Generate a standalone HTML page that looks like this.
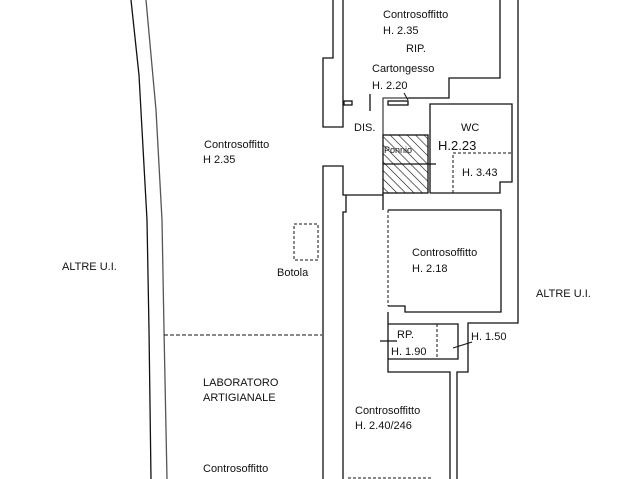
<!DOCTYPE html>
<html><head><meta charset="utf-8"><style>
html,body{margin:0;padding:0;background:#fff;}
svg{display:block}
text{font-family:"Liberation Sans",sans-serif;font-size:11px;fill:#111;}
</style></head><body>
<svg width="640" height="479" viewBox="0 0 640 479" xmlns="http://www.w3.org/2000/svg">
<defs>
<pattern id="h" width="6" height="6" patternUnits="userSpaceOnUse" patternTransform="rotate(-45)">
<line x1="0" y1="0" x2="0" y2="6" stroke="#111" stroke-width="1.2"/>
</pattern>
</defs>
<g fill="none" stroke="#111" stroke-width="1.3">
<path d="M131,0 L139,75 L147,220 L149,330 L151,479"/>
<path d="M146,0 L156,110 L162,220 L164,330 L167,479" stroke="#555"/>
<path d="M333,0 L333,58 L323,58 L323,127 L343,127 L343,0"/>
<path d="M323,479 L323,166 L343,166 L343,195 L383,195"/>
<path d="M343,479 L343,212 L346,212 L346,195"/>
<path d="M500,0 L500,78 L449,78 L449,98 L408,98"/>
<path d="M408,98 L383,98 L383,210" stroke-width="1"/>
<rect x="344" y="101" width="8" height="4"/>
<line x1="370" y1="94" x2="370" y2="111"/>
<rect x="388" y="101" width="20" height="4"/>
<line x1="404" y1="93" x2="408" y2="100" stroke-width="1"/>
<path d="M518,0 L518,323 L468,323 L468,372 L457,372 L457,479"/>
<path d="M450,479 L450,372 L388,372 L388,312"/>
<path d="M430,193 L430,104 L512,104 L512,182 L500,182 L500,193 L430,193"/>
<path d="M453,193 L453,153 L512,153" stroke-dasharray="3,2" stroke-width="1"/>
<rect x="383" y="135" width="45" height="58" fill="url(#h)"/>
<line x1="383" y1="164" x2="436" y2="164"/>
<line x1="383" y1="193" x2="383" y2="210"/>
<path d="M388,210 L501,210 L501,312 L405,312 L405,306 L388,306"/>
<line x1="388" y1="210" x2="388" y2="306" stroke-dasharray="3,2" stroke-width="1"/>
<path d="M388,324 L458,324 L458,359 L388,359"/>
<line x1="437" y1="324" x2="437" y2="359" stroke-dasharray="3,2" stroke-width="1"/>
<line x1="380" y1="341" x2="397" y2="341"/>
<line x1="453" y1="348" x2="472" y2="342" stroke-width="1"/>
<line x1="164" y1="335" x2="322" y2="335" stroke-dasharray="4,2" stroke-width="1"/>
<rect x="294" y="224" width="24" height="36" stroke-dasharray="3,2" stroke-width="1"/>
<line x1="348" y1="478" x2="432" y2="478" stroke-dasharray="3,2" stroke-width="1"/>
</g>
<text x="204" y="148">Controsoffitto</text>
<text x="203" y="163">H 2.35</text>
<text x="62" y="270">ALTRE U.I.</text>
<text x="277" y="276">Botola</text>
<text x="203" y="386">LABORATORO</text>
<text x="203" y="401">ARTIGIANALE</text>
<text x="203" y="472">Controsoffitto</text>
<text x="354" y="131">DIS.</text>
<text x="383" y="18">Controsoffitto</text>
<text x="383" y="34">H. 2.35</text>
<text x="406" y="52">RIP.</text>
<text x="372" y="72">Cartongesso</text>
<text x="372" y="89">H. 2.20</text>
<text x="461" y="131">WC</text>
<text x="438" y="150" style="font-size:13px">H.2.23</text>
<text x="462" y="176">H. 3.43</text>
<text x="384" y="153" style="font-size:9px">Ponnio</text>
<text x="412" y="256">Controsoffitto</text>
<text x="412" y="272">H. 2.18</text>
<text x="536" y="297">ALTRE U.I.</text>
<text x="397" y="338">RP.</text>
<text x="391" y="355">H. 1.90</text>
<text x="471" y="340">H. 1.50</text>
<text x="355" y="414">Controsoffitto</text>
<text x="355" y="429">H. 2.40/246</text>
</svg>
</body></html>
